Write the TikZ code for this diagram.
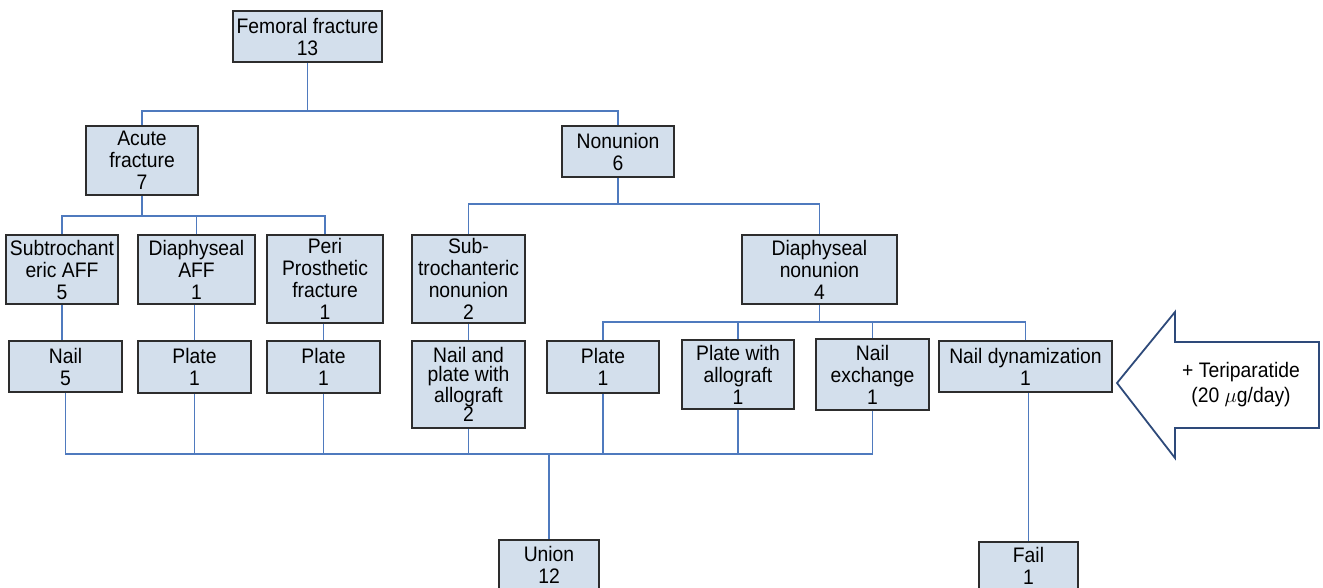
\documentclass[tikz,border=0pt]{standalone}
\usepackage{fontspec}
\setmainfont{Liberation Sans}[FakeStretch=0.92]
\definecolor{boxfill}{RGB}{211,223,236}
\definecolor{boxborder}{RGB}{45,45,45}
\definecolor{conn}{RGB}{79,122,190}
\definecolor{arrowblue}{RGB}{46,74,122}
\begin{document}
\begin{tikzpicture}[x=1pt,y=-1pt,
  box/.style={draw=boxborder, fill=boxfill, line width=1.6pt, inner sep=0pt, align=center,
    font=\fontsize{21}{22}\selectfont},
  link/.style={draw=conn, line width=1.5pt}]
\useasboundingbox (0,0) rectangle (1323,588);
% level 0
\node[box, minimum width=149pt, minimum height=51pt] (fem) at (307.5,36.5) {Femoral fracture\\13};
% level 1
\node[box, minimum width=112pt, minimum height=69pt] (acute) at (142,160.5) {Acute\\fracture\\7};
\node[box, minimum width=112pt, minimum height=51pt] (non) at (618,151.5) {Nonunion\\6};
% level 2
\node[box, minimum width=112pt, minimum height=69pt] (staff) at (62,269.5) {Subtrochant\\eric AFF\\5};
\node[box, minimum width=117pt, minimum height=69pt] (daff) at (196.5,269.5) {Diaphyseal\\AFF\\1};
\node[box, minimum width=116pt, minimum height=88pt] (peri) at (325,279) {Peri\\Prosthetic\\fracture\\1};
\node[box, minimum width=113pt, minimum height=88pt] (snon) at (468.5,279) {Sub-\\trochanteric\\nonunion\\2};
\node[box, minimum width=155pt, minimum height=69pt] (dnon) at (819.5,269.5) {Diaphyseal\\nonunion\\4};
% level 3
\node[box, minimum width=113pt, minimum height=51pt] (nail) at (65.5,366.5) {Nail\\5};
\node[box, minimum width=113pt, minimum height=52pt] (platea) at (194.5,367) {Plate\\1};
\node[box, minimum width=113pt, minimum height=52pt] (plateb) at (323.5,367) {Plate\\1};
\node[box, minimum width=113pt, minimum height=87pt, font=\fontsize{21}{19.5}\selectfont] (nailplate) at (468.5,384.5) {Nail and\\plate with\\allograft\\2};
\node[box, minimum width=112pt, minimum height=52pt] (platec) at (603,367) {Plate\\1};
\node[box, minimum width=112pt, minimum height=69pt] (plateallo) at (738,374.5) {Plate with\\allograft\\1};
\node[box, minimum width=113pt, minimum height=71pt] (nailex) at (872.5,374.5) {Nail\\exchange\\1};
\node[box, minimum width=173pt, minimum height=51pt] (dyn) at (1025.5,366.5) {Nail dynamization\\1};
% outcomes
\node[box, minimum width=100pt, minimum height=50pt] (union) at (549,565) {Union\\12};
\node[box, minimum width=99pt, minimum height=48pt] (fail) at (1028.5,566) {Fail\\1};
% junctions
\coordinate (j1) at (307.5,111);
\coordinate (j2) at (142,216);
\coordinate (j3) at (618,204);
\coordinate (j4) at (819.5,322);
\coordinate (jb) at (549,454);
% connectors
\draw[link] (fem.south) -- (j1);
\draw[link] (acute.north) |- (j1);
\draw[link] (non.north) |- (j1);
\draw[link] (acute.south) -- (j2);
\draw[link] (staff.north) |- (j2);
\draw[link] (daff.north) |- (j2);
\draw[link] (peri.north) |- (j2);
\draw[link] (non.south) -- (j3);
\draw[link] (snon.north) |- (j3);
\draw[link] (dnon.north) |- (j3);
\draw[link] (dnon.south) -- (j4);
\draw[link] (platec.north) |- (j4);
\draw[link] (plateallo.north) |- (j4);
\draw[link] (nailex.north) |- (j4);
\draw[link] (dyn.north) |- (j4);
\draw[link] (staff.south) -- (nail.north -| staff.south);
\draw[link] (platea.north |- daff.south) -- (platea.north);
\draw[link] (plateb.north |- peri.south) -- (plateb.north);
\draw[link] (snon.south) -- (nailplate.north);
\draw[link] (nail.south) |- (jb);
\draw[link] (platea.south) |- (jb);
\draw[link] (plateb.south) |- (jb);
\draw[link] (nailplate.south) |- (jb);
\draw[link] (platec.south) |- (jb);
\draw[link] (plateallo.south) |- (jb);
\draw[link] (nailex.south) |- (jb);
\draw[link] (jb) -- (union.north);
\draw[link] (dyn.south -| fail.north) -- (fail.north);
% teriparatide arrow
\draw[draw=arrowblue, fill=white, line width=1.8pt, line join=miter]
  (1117,383) -- (1175,312) -- (1175,342) -- (1319,342) -- (1319,428) -- (1175,428) -- (1175,458) -- cycle;
\node[align=center, font=\fontsize{21}{25}\selectfont] (teri) at (1241,385) {+ Teriparatide\\(20 $\mu$g/day)};
\end{tikzpicture}
\end{document}
